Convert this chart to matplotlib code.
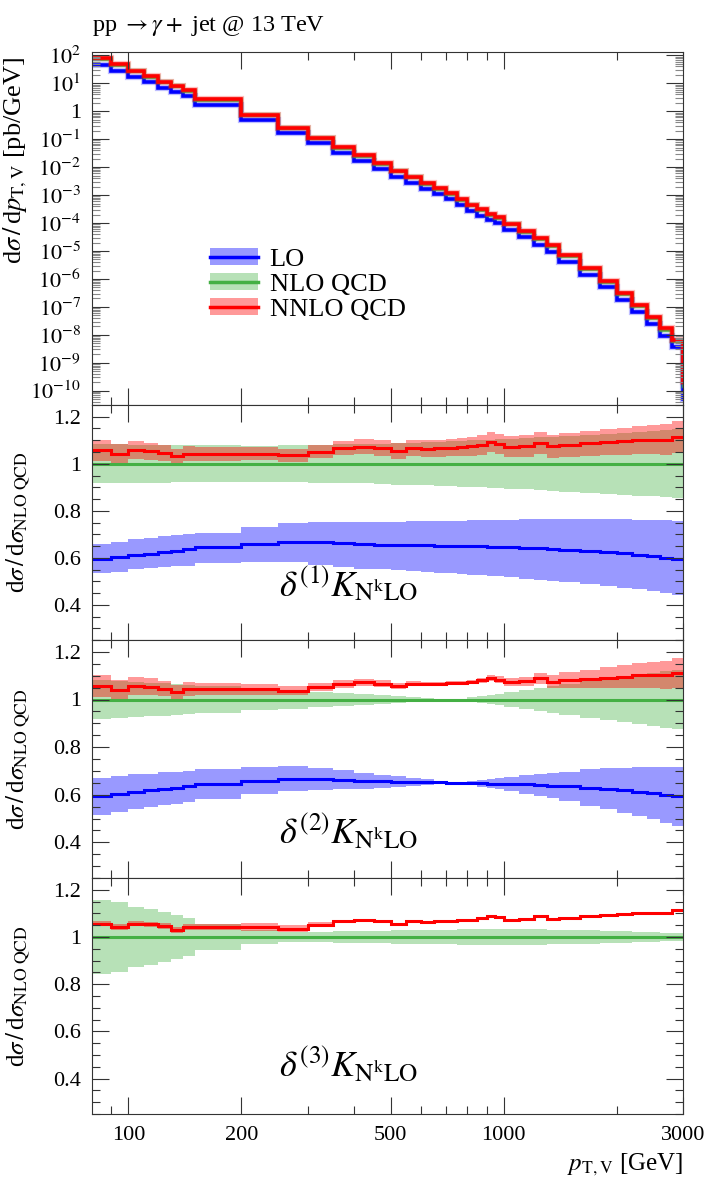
import numpy as np
import matplotlib
matplotlib.use('Agg')
import matplotlib.pyplot as plt
from matplotlib.ticker import FixedLocator, FuncFormatter, MultipleLocator, LogLocator, NullFormatter
from matplotlib.patches import Patch
from matplotlib.lines import Line2D
from matplotlib.legend_handler import HandlerTuple

plt.rcParams['font.family'] = ['Liberation Serif', 'DejaVu Serif']
plt.rcParams['mathtext.fontset'] = 'stix'

# bin edges in p_T,V [GeV]
edges = [80, 90, 100, 110, 120, 130, 140, 150, 200, 250, 300, 350, 400, 450, 500,
         550, 600, 650, 700, 750, 800, 850, 900, 950, 1000, 1100, 1200, 1300, 1400,
         1600, 1800, 2000, 2200, 2400, 2600, 2800, 3000]

# d sigma / d pT  [pb/GeV]
lo_xs = [43.9, 27.7, 16.3, 10.7, 6.88, 4.85, 3.50, 1.66, 0.467, 0.166, 0.0705, 0.0334,
         0.0165, 8.46e-3, 4.60e-3, 2.81e-3, 1.68e-3, 1.06e-3, 7.03e-4, 4.39e-4, 2.76e-4,
         1.85e-4, 1.30e-4, 9.88e-5, 5.74e-5, 3.14e-5, 1.66e-5, 9.38e-6, 4.06e-6, 1.42e-6,
         4.99e-7, 1.78e-7, 6.50e-8, 2.41e-8, 9.24e-9, 3.60e-9]
nlo_xs = [74.1, 46.0, 26.7, 17.3, 11.0, 7.70, 5.51, 2.58, 0.710, 0.248, 0.106, 0.0504,
          0.0251, 0.0129, 7.02e-3, 4.29e-3, 2.58e-3, 1.63e-3, 1.08e-3, 6.76e-4, 4.26e-4,
          2.86e-4, 2.01e-4, 1.53e-4, 8.90e-5, 4.88e-5, 2.59e-5, 1.47e-5, 6.40e-6, 2.25e-6,
          7.98e-7, 2.88e-7, 1.06e-7, 3.97e-8, 1.54e-8, 6.07e-9]
nnlo_xs = [78.3, 47.9, 28.2, 18.2, 11.5, 7.94, 5.75, 2.69, 0.741, 0.257, 0.112, 0.0537,
           0.0269, 0.0138, 7.41e-3, 4.57e-3, 2.75e-3, 1.74e-3, 1.15e-3, 7.24e-4, 4.57e-4,
           3.09e-4, 2.19e-4, 1.66e-4, 9.55e-5, 5.25e-5, 2.82e-5, 1.58e-5, 6.92e-6, 2.45e-6,
           8.71e-7, 3.16e-7, 1.17e-7, 4.37e-8, 1.70e-8, 6.76e-9]
# overflow bin above 3000 GeV (the drop at the right edge)
lo_tail, nlo_tail, nnlo_tail = 5e-11, 1.5e-10, 2e-10

# ratios to NLO QCD
r_lo = [0.593, 0.603, 0.612, 0.618, 0.625, 0.630, 0.636, 0.645, 0.658, 0.668, 0.665, 0.662,
        0.658, 0.656, 0.655, 0.654, 0.653, 0.652, 0.651, 0.650, 0.649, 0.648, 0.647, 0.646,
        0.645, 0.643, 0.641, 0.638, 0.635, 0.630, 0.625, 0.619, 0.613, 0.607, 0.600, 0.593]
r_nnlo = [1.057, 1.042, 1.057, 1.053, 1.046, 1.031, 1.043, 1.043, 1.043, 1.036, 1.052, 1.066,
          1.072, 1.066, 1.056, 1.066, 1.064, 1.066, 1.069, 1.071, 1.074, 1.080, 1.091, 1.084,
          1.073, 1.076, 1.089, 1.075, 1.081, 1.088, 1.092, 1.096, 1.101, 1.102, 1.103, 1.113]

# delta(1) uncertainties
lo_dn1 = [0.534, 0.541, 0.551, 0.556, 0.561, 0.564, 0.567, 0.576, 0.583, 0.581, 0.570, 0.562,
          0.554, 0.551, 0.547, 0.544, 0.541, 0.537, 0.534, 0.531, 0.528, 0.525, 0.524, 0.521,
          0.517, 0.511, 0.505, 0.501, 0.495, 0.487, 0.478, 0.473, 0.466, 0.457, 0.449, 0.440]
lo_up1 = [0.658, 0.668, 0.678, 0.685, 0.691, 0.695, 0.699, 0.704, 0.732, 0.750, 0.751, 0.751,
          0.752, 0.753, 0.754, 0.755, 0.756, 0.757, 0.757, 0.758, 0.759, 0.760, 0.760, 0.761,
          0.762, 0.763, 0.764, 0.764, 0.765, 0.765, 0.764, 0.763, 0.762, 0.761, 0.760, 0.758]
nlo_err1 = [0.083, 0.082, 0.081, 0.080, 0.080, 0.079, 0.079, 0.078, 0.077, 0.078, 0.080, 0.082,
            0.084, 0.086, 0.089, 0.090, 0.092, 0.094, 0.096, 0.097, 0.099, 0.100, 0.102, 0.105,
            0.106, 0.109, 0.112, 0.115, 0.119, 0.123, 0.128, 0.132, 0.136, 0.139, 0.143, 0.146]
nnlo_err1 = [0.046, 0.042, 0.038, 0.036, 0.034, 0.032, 0.031, 0.030, 0.028, 0.027, 0.028, 0.030,
             0.032, 0.033, 0.034, 0.035, 0.036, 0.037, 0.038, 0.039, 0.040, 0.041, 0.042, 0.043,
             0.044, 0.046, 0.047, 0.049, 0.051, 0.053, 0.055, 0.057, 0.060, 0.062, 0.065, 0.068]

# delta(2) uncertainties
lo_err2 = [0.077, 0.075, 0.073, 0.071, 0.069, 0.067, 0.065, 0.062, 0.057, 0.052, 0.046, 0.040,
           0.034, 0.028, 0.022, 0.016, 0.011, 0.006, 0.002, 0.004, 0.009, 0.014, 0.019, 0.024,
           0.030, 0.038, 0.045, 0.052, 0.061, 0.076, 0.086, 0.095, 0.103, 0.111, 0.118, 0.125]
nlo_err2 = [0.083, 0.079, 0.075, 0.071, 0.068, 0.065, 0.063, 0.055, 0.046, 0.038, 0.032, 0.026,
            0.022, 0.017, 0.014, 0.010, 0.007, 0.004, 0.001, 0.003, 0.009, 0.015, 0.020, 0.025,
            0.032, 0.040, 0.048, 0.055, 0.064, 0.076, 0.086, 0.095, 0.104, 0.111, 0.118, 0.125]
nnlo_err2 = [0.045, 0.042, 0.039, 0.036, 0.033, 0.031, 0.029, 0.026, 0.022, 0.019, 0.018, 0.017,
             0.016, 0.015, 0.013, 0.011, 0.009, 0.008, 0.007, 0.007, 0.008, 0.010, 0.012, 0.014,
             0.017, 0.020, 0.024, 0.028, 0.033, 0.038, 0.043, 0.047, 0.051, 0.055, 0.059, 0.063]

# delta(3) uncertainties
nlo_err3 = [0.157, 0.147, 0.127, 0.117, 0.106, 0.094, 0.082, 0.053, 0.028, 0.022, 0.022, 0.024,
            0.025, 0.027, 0.028, 0.029, 0.030, 0.031, 0.031, 0.032, 0.032, 0.033, 0.033, 0.033,
            0.033, 0.032, 0.032, 0.031, 0.030, 0.028, 0.026, 0.024, 0.022, 0.020, 0.017, 0.015]
nnlo_err3 = [0.012, 0.012, 0.012, 0.012, 0.012, 0.012, 0.012, 0.014, 0.016, 0.015, 0.010, 0.006,
             0.004, 0.004, 0.004, 0.004, 0.003, 0.003, 0.003, 0.003, 0.003, 0.003, 0.003, 0.003,
             0.003, 0.003, 0.003, 0.003, 0.003, 0.003, 0.003, 0.003, 0.003, 0.003, 0.003, 0.003]

LO_C, NLO_C, NNLO_C = '#0000ff', '#44b044', '#ff0000'
LO_B, NLO_B, NNLO_B = '#0000ff', '#33aa33', '#ff0000'
LO_A, NLO_A, NNLO_A = 0.4, 0.35, 0.4
AX_C = '#333333'
TICK_FS = 16

W, H = 712, 1187
fig = plt.figure(figsize=(W / 100, H / 100), dpi=100)


def box(top, bottom):
    return [92 / W, 1 - bottom / H, 591 / W, (bottom - top) / H]


ax0 = fig.add_axes(box(52, 405))
ax1 = fig.add_axes(box(405, 640), sharex=ax0)
ax2 = fig.add_axes(box(640, 878), sharex=ax0)
ax3 = fig.add_axes(box(878, 1114), sharex=ax0)
axes = [ax0, ax1, ax2, ax3]

for ax in axes:
    ax.set_xscale('log')
    ax.set_xlim(80, 3000)
    ax.xaxis.set_major_locator(FixedLocator([100, 200, 500, 1000, 3000]))
    ax.xaxis.set_minor_locator(FixedLocator([90, 300, 400, 600, 700, 800, 900, 2000]))
    ax.xaxis.set_major_formatter(FuncFormatter(lambda v, p: '%d' % v))
    ax.xaxis.set_minor_formatter(NullFormatter())
    ax.tick_params(which='both', direction='in', top=True, right=True, color=AX_C,
                   width=0.8, labelsize=TICK_FS, pad=8)
    ax.tick_params(which='major', length=12.5)
    ax.tick_params(which='minor', length=6)
    ax.tick_params(axis='x', labelbottom=False)
    for s in ax.spines.values():
        s.set_color(AX_C)
        s.set_linewidth(0.8)
ax3.tick_params(axis='x', labelbottom=True, pad=9)

# ---- main panel
e_top = np.array(edges + [3200])
ax0.stairs(lo_xs + [lo_tail], e_top, baseline=None, color=LO_B, alpha=0.25, lw=4.5)
ax0.stairs(lo_xs + [lo_tail], e_top, baseline=None, color=LO_C, lw=2.6)
ax0.stairs(nlo_xs + [nlo_tail], e_top, baseline=None, color=NLO_B, alpha=0.25, lw=4.0)
ax0.stairs(nlo_xs + [nlo_tail], e_top, baseline=None, color=NLO_C, lw=1.8)
ax0.stairs(nnlo_xs + [nnlo_tail], e_top, baseline=None, color=NNLO_B, alpha=0.25, lw=4.5)
ax0.stairs(nnlo_xs + [nnlo_tail], e_top, baseline=None, color=NNLO_C, lw=2.6)
ax0.set_yscale('log')
ax0.set_ylim(10 ** -10.51, 10 ** 2.12)
decades = np.arange(-10, 3)
ax0.yaxis.set_major_locator(FixedLocator(10.0 ** decades))
ax0.yaxis.set_minor_locator(FixedLocator(
    [m * 10.0 ** d for d in range(-11, 2) for m in range(2, 10) if m * 10.0 ** d > 10 ** -10.51]))
ax0.yaxis.set_major_formatter(FuncFormatter(
    lambda v, p: '1' if round(np.log10(v)) == 0 else r'$10^{%d}$' % round(np.log10(v))))
ax0.yaxis.set_minor_formatter(NullFormatter())
ax0.tick_params(axis='y', which='minor', color='#888888', length=6)

handles = [(Patch(facecolor=LO_B, alpha=LO_A, lw=0), Line2D([], [], color=LO_C, lw=2.5)),
           (Patch(facecolor=NLO_B, alpha=NLO_A, lw=0), Line2D([], [], color=NLO_C, lw=2.5)),
           (Patch(facecolor=NNLO_B, alpha=NNLO_A, lw=0), Line2D([], [], color=NNLO_C, lw=2.5))]
ax0.legend(handles, ['LO', 'NLO QCD', 'NNLO QCD'],
           handler_map={tuple: HandlerTuple(ndivide=1, pad=0)},
           loc='upper left', bbox_to_anchor=(0.2, 0.445), frameon=False, fontsize=19,
           handlelength=1.8, handleheight=0.62, labelspacing=0.09, handletextpad=0.45,
           borderaxespad=0, borderpad=0)

# ---- ratio panels
lo_c = np.array(r_lo)
nnlo_c = np.array(r_nnlo)
one = np.ones(len(r_lo))

panels = [
    (ax1, (np.array(lo_dn1), np.array(lo_up1)), np.array(nlo_err1), np.array(nnlo_err1), '1', 0.234),
    (ax2, (lo_c - np.array(lo_err2), lo_c + np.array(lo_err2)), np.array(nlo_err2),
     np.array(nnlo_err2), '2', 0.193),
    (ax3, None, np.array(nlo_err3), np.array(nnlo_err3), '3', 0.208),
]

for ax, lo_band, nlo_err, nnlo_err, k, ty in panels:
    ax.stairs(one + nlo_err, edges, baseline=one - nlo_err, fill=True,
              color=NLO_B, alpha=NLO_A, lw=0)
    if lo_band is not None:
        ax.stairs(lo_band[1], edges, baseline=lo_band[0], fill=True,
                  color=LO_B, alpha=LO_A, lw=0)
    ax.stairs(nnlo_c + nnlo_err, edges, baseline=nnlo_c - nnlo_err, fill=True,
              color=NNLO_B, alpha=NNLO_A, lw=0)
    ax.stairs(one, edges, baseline=None, color=NLO_C, lw=2.2)
    if lo_band is not None:
        ax.stairs(lo_c, edges, baseline=None, color=LO_C, lw=2.2)
    ax.stairs(nnlo_c, edges, baseline=None, color=NNLO_C, lw=2.2)
    ax.set_ylim(0.25, 1.25)
    ax.yaxis.set_major_locator(FixedLocator([0.4, 0.6, 0.8, 1.0, 1.2]))
    ax.yaxis.set_minor_locator(MultipleLocator(0.05))
    ax.yaxis.set_major_formatter(FuncFormatter(lambda v, p: '%g' % v))
    ax.text(0.435, ty, r'$\delta^{(%s)}K_{\mathrm{N}^{\mathrm{k}}\mathrm{LO}}$' % k,
            transform=ax.transAxes, ha='center', va='center', fontsize=26)

# ---- labels
fig.text(92 / W, 1 - 31 / H, r'pp $\rightarrow\gamma+$ jet @ 13 TeV',
         ha='left', va='baseline', fontsize=17.5)
fig.text(15 / W, 1 - 160 / H, r'd$\sigma\,/\,$d$p_{\mathrm{T,V}}$ [pb/GeV]',
         rotation=90, ha='center', va='center', fontsize=19)
for yc in (522, 759, 996):
    fig.text(18 / W, 1 - yc / H, r'd$\sigma\,/\,$d$\sigma_{\mathrm{NLO\ QCD}}$',
             rotation=90, ha='center', va='center', fontsize=18)
fig.text(683 / W, 1 - 1165 / H, r'$p_{\mathrm{T,V}}$ [GeV]',
         ha='right', va='center', fontsize=18)

fig.savefig('out.png', dpi=100)
